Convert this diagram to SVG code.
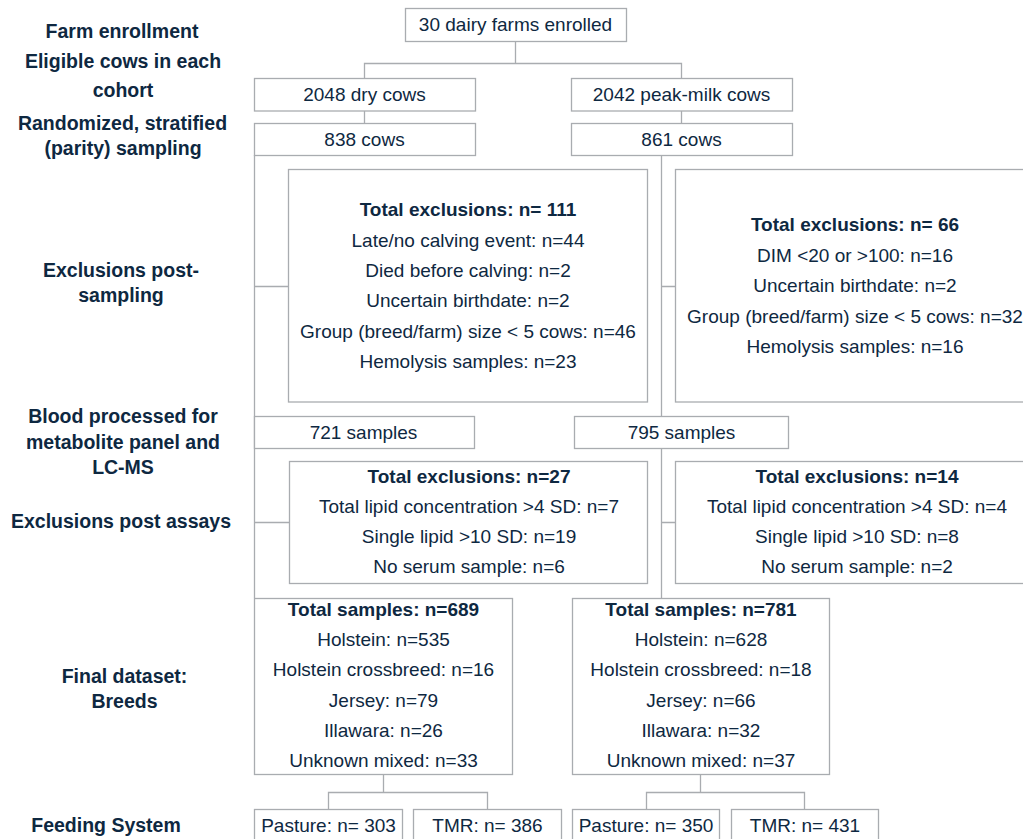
<svg xmlns="http://www.w3.org/2000/svg" width="1023" height="839" viewBox="0 0 1023 839">
<style>
.box{fill:#ffffff;stroke:#a9acb0;stroke-width:1.3}
.ln{fill:none;stroke:#a9acb0;stroke-width:1.3}
text{font-family:"Liberation Sans",Arial,sans-serif;fill:#0e2841;text-anchor:middle}
.t{font-size:19px}
.b{font-size:19px;font-weight:bold}
.lab{font-size:19.5px;font-weight:bold}
</style>
<rect width="1023" height="839" fill="#ffffff"/>
<g id="stage-labels">
<text class="lab" x="122" y="38">Farm enrollment</text>
<text class="lab" x="123" y="68">Eligible cows in each</text>
<text class="lab" x="123" y="97">cohort</text>
<text class="lab" x="122.5" y="130">Randomized, stratified</text>
<text class="lab" x="123" y="155">(parity) sampling</text>
<text class="lab" x="121" y="277">Exclusions post-</text>
<text class="lab" x="121" y="302">sampling</text>
<text class="lab" x="123" y="423">Blood processed for</text>
<text class="lab" x="123" y="449">metabolite panel and</text>
<text class="lab" x="123" y="474">LC-MS</text>
<text class="lab" x="121" y="528">Exclusions post assays</text>
<text class="lab" x="124.5" y="683">Final dataset:</text>
<text class="lab" x="124.5" y="708">Breeds</text>
<text class="lab" x="106" y="832">Feeding System</text>
</g>
<g id="connectors">
<path class="ln" d="M515.5 41V63.5M364.5 78V63.5H681.5V78"/>
<path class="ln" d="M364.5 111V123M681.5 111V123"/>
<path class="ln" d="M254.5 155V598M254.5 286.5H288M254.5 522.5H289"/>
<path class="ln" d="M661.5 155V598M661.5 286.5H675M661.5 522.5H675"/>
<path class="ln" d="M383.5 774V792.5M328.5 809V792.5H487.5V809"/>
<path class="ln" d="M700.5 774V792.5M646.5 809V792.5H804.5V809"/>
</g>
<g id="n-farms">
<rect class="box" x="405.5" y="8.5" width="221" height="33"/>
<text class="t" x="515.5" y="31">30 dairy farms enrolled</text>
</g>
<g id="n-dry">
<rect class="box" x="254.5" y="78.5" width="221" height="32.5"/>
<text class="t" x="364.5" y="101">2048 dry cows</text>
</g>
<g id="n-peak">
<rect class="box" x="571.5" y="78.5" width="221" height="32.5"/>
<text class="t" x="681.5" y="101">2042 peak-milk cows</text>
</g>
<g id="n-838">
<rect class="box" x="254.5" y="123.5" width="221" height="32"/>
<text class="t" x="364.5" y="146">838 cows</text>
</g>
<g id="n-861">
<rect class="box" x="571.5" y="123.5" width="221" height="32"/>
<text class="t" x="681.5" y="146">861 cows</text>
</g>
<g id="n-excl1-left">
<rect class="box" x="288.5" y="169.5" width="359" height="232.5"/>
<text class="b" x="468" y="216">Total exclusions: n= 111</text>
<text class="t" x="468" y="246.5">Late/no calving event: n=44</text>
<text class="t" x="468" y="277">Died before calving: n=2</text>
<text class="t" x="468" y="307">Uncertain birthdate: n=2</text>
<text class="t" x="468" y="337.5">Group (breed/farm) size &lt; 5 cows: n=46</text>
<text class="t" x="468" y="368">Hemolysis samples: n=23</text>
</g>
<g id="n-excl1-right">
<rect class="box" x="675.5" y="169.5" width="362" height="232.5"/>
<text class="b" x="855" y="231">Total exclusions: n= 66</text>
<text class="t" x="855" y="262">DIM &lt;20 or &gt;100: n=16</text>
<text class="t" x="855" y="292">Uncertain birthdate: n=2</text>
<text class="t" x="855" y="323">Group (breed/farm) size &lt; 5 cows: n=32</text>
<text class="t" x="855" y="353">Hemolysis samples: n=16</text>
</g>
<g id="n-721">
<rect class="box" x="254.5" y="416.5" width="220" height="32"/>
<text class="t" x="363.5" y="439">721 samples</text>
</g>
<g id="n-795">
<rect class="box" x="574.5" y="416.5" width="214" height="32"/>
<text class="t" x="681.5" y="439">795 samples</text>
</g>
<g id="n-excl2-left">
<rect class="box" x="289.5" y="461.5" width="358" height="122"/>
<text class="b" x="469" y="483">Total exclusions: n=27</text>
<text class="t" x="469" y="513">Total lipid concentration &gt;4 SD: n=7</text>
<text class="t" x="469" y="543">Single lipid &gt;10 SD: n=19</text>
<text class="t" x="469" y="573">No serum sample: n=6</text>
</g>
<g id="n-excl2-right">
<rect class="box" x="675.5" y="461.5" width="362" height="122"/>
<text class="b" x="857" y="483">Total exclusions: n=14</text>
<text class="t" x="857" y="513">Total lipid concentration &gt;4 SD: n=4</text>
<text class="t" x="857" y="543">Single lipid &gt;10 SD: n=8</text>
<text class="t" x="857" y="573">No serum sample: n=2</text>
</g>
<g id="n-final-left">
<rect class="box" x="254.5" y="598.5" width="258" height="176"/>
<text class="b" x="383.5" y="616">Total samples: n=689</text>
<text class="t" x="383.5" y="646">Holstein: n=535</text>
<text class="t" x="383.5" y="676">Holstein crossbreed: n=16</text>
<text class="t" x="383.5" y="707">Jersey: n=79</text>
<text class="t" x="383.5" y="737">Illawara: n=26</text>
<text class="t" x="383.5" y="767">Unknown mixed: n=33</text>
</g>
<g id="n-final-right">
<rect class="box" x="572.5" y="598.5" width="257" height="176"/>
<text class="b" x="701" y="616">Total samples: n=781</text>
<text class="t" x="701" y="646">Holstein: n=628</text>
<text class="t" x="701" y="676">Holstein crossbreed: n=18</text>
<text class="t" x="701" y="707">Jersey: n=66</text>
<text class="t" x="701" y="737">Illawara: n=32</text>
<text class="t" x="701" y="767">Unknown mixed: n=37</text>
</g>
<g id="n-pasture-left">
<rect class="box" x="254.5" y="809.5" width="148" height="40"/>
<text class="t" x="328.5" y="832">Pasture: n= 303</text>
</g>
<g id="n-tmr-left">
<rect class="box" x="413.5" y="809.5" width="148" height="40"/>
<text class="t" x="487.5" y="832">TMR: n= 386</text>
</g>
<g id="n-pasture-right">
<rect class="box" x="572.5" y="809.5" width="147" height="40"/>
<text class="t" x="646" y="832">Pasture: n= 350</text>
</g>
<g id="n-tmr-right">
<rect class="box" x="731.5" y="809.5" width="147" height="40"/>
<text class="t" x="805" y="832">TMR: n= 431</text>
</g>
</svg>
